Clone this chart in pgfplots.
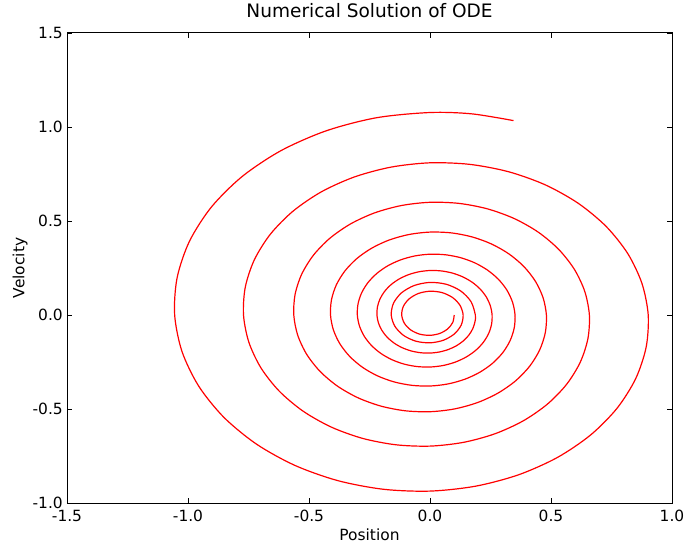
\documentclass[border=0pt]{standalone}
\usepackage{fontspec}
\setmainfont{DejaVu Sans}
\usepackage{pgfplots}
\pgfplotsset{compat=1.18}
\newcommand\lblfont{\fontsize{15.5}{18}\selectfont}
\begin{document}
\begin{tikzpicture}
\useasboundingbox (-67bp,-45bp) rectangle (622bp,503bp);
\begin{axis}[
    scale only axis,
    width=605bp, height=470bp,
    xmin=-1.5, xmax=1.0,
    ymin=-1.0, ymax=1.5,
    xtick={-1.5,-1,-0.5,0,0.5,1},
    xticklabels={-1.5,-1.0,-0.5,0.0,0.5,1.0},
    ytick={-1,-0.5,0,0.5,1,1.5},
    yticklabels={-1.0,-0.5,0.0,0.5,1.0,1.5},
    tick align=inside,
    major tick length=5bp,
    tick style={black, line width=0.6bp},
    axis line style={line width=1bp},
    ticklabel style={font=\lblfont, inner sep=0pt},
    xticklabel style={anchor=base, yshift=-18bp},
    yticklabel style={anchor=east, xshift=-4bp},
    title={Numerical Solution of ODE},
    title style={font=\fontsize{18.6}{22}\selectfont, at={(axis description cs:0.5,1.034)}, anchor=center},
    xlabel={Position},
    ylabel={Velocity},
    label style={font=\lblfont},
    xlabel style={at={(axis description cs:0.5,-0.068)}, anchor=center},
    ylabel style={at={(axis description cs:-0.0777,0.5)}, anchor=center},
]
% phase portrait (clockwise, from the centre outwards)
\addplot[red, line width=1.2bp, smooth] coordinates {
(0.1000,0.0000) (0.0942,-0.0390) (0.0735,-0.0735) (0.0406,-0.0980)
(0.0000,-0.1082) (-0.0422,-0.1019) (-0.0796,-0.0796) (-0.1060,-0.0439)
(-0.1170,0.0000) (-0.1102,0.0457) (-0.0861,0.0861) (-0.0475,0.1147)
(0.0000,0.1266) (0.0494,0.1193) (0.0931,0.0931) (0.1240,0.0514)
(0.1369,0.0000) (0.1290,-0.0534) (0.1007,-0.1007) (0.0556,-0.1342)
(0.0000,-0.1481) (-0.0578,-0.1395) (-0.1089,-0.1089) (-0.1451,-0.0601)
(-0.1602,0.0000) (-0.1509,0.0625) (-0.1178,0.1178) (-0.0650,0.1570)
(0.0000,0.1733) (0.0676,0.1633) (0.1274,0.1274) (0.1698,0.0703)
(0.1874,0.0000) (0.1857,-0.0369) (0.1766,-0.0731) (0.1605,-0.1071)
(0.1379,-0.1376) (0.1094,-0.1634) (0.0761,-0.1834) (0.0392,-0.1966)
(0.0000,-0.2024) (-0.0399,-0.2005) (-0.0791,-0.1907) (-0.1160,-0.1733)
(-0.1491,-0.1488) (-0.1771,-0.1181) (-0.1987,-0.0821) (-0.2130,-0.0423)
(-0.2193,0.0000) (-0.2172,0.0431) (-0.2066,0.0854) (-0.1878,0.1252)
(-0.1613,0.1610) (-0.1280,0.1911) (-0.0890,0.2144) (-0.0458,0.2299)
(0.0000,0.2367) (0.0467,0.2344) (0.0926,0.2230) (0.1357,0.2027)
(0.1745,0.1740) (0.2072,0.1381) (0.2325,0.0961) (0.2492,0.0494)
(0.2566,0.0000) (0.2542,-0.0504) (0.2418,-0.0999) (0.2198,-0.1464)
(0.1887,-0.1882) (0.1498,-0.2234) (0.1042,-0.2507) (0.0536,-0.2688)
(0.0000,-0.2767) (-0.0547,-0.2741) (-0.1083,-0.2607) (-0.1588,-0.2369)
(-0.2042,-0.2034) (-0.2424,-0.1614) (-0.2720,-0.1123) (-0.2916,-0.0578)
(-0.3003,0.0000) (-0.2974,0.0589) (-0.2829,0.1167) (-0.2571,0.1711)
(-0.2208,0.2199) (-0.1752,0.2612) (-0.1219,0.2930) (-0.0628,0.3141)
(0.0000,0.3234) (0.0640,0.3203) (0.1268,0.3047) (0.1859,0.2769)
(0.2389,0.2377) (0.2837,0.1886) (0.3183,0.1312) (0.3412,0.0675)
(0.3514,0.0000) (0.3480,-0.0689) (0.3310,-0.1364) (0.3009,-0.1999)
(0.2584,-0.2570) (0.2050,-0.3051) (0.1426,-0.3423) (0.0734,-0.3669)
(0.0000,-0.3778) (-0.0749,-0.3741) (-0.1483,-0.3559) (-0.2175,-0.3234)
(-0.2795,-0.2777) (-0.3319,-0.2203) (-0.3724,-0.1532) (-0.3993,-0.0789)
(-0.4111,0.0000) (-0.4072,0.0804) (-0.3874,0.1593) (-0.3521,0.2335)
(-0.3024,0.3001) (-0.2399,0.3562) (-0.1669,0.3997) (-0.0859,0.4284)
(0.0000,0.4410) (0.0876,0.4368) (0.1736,0.4154) (0.2545,0.3775)
(0.3271,0.3241) (0.3884,0.2571) (0.4358,0.1788) (0.4672,0.0921)
(0.4810,0.0000) (0.4765,-0.0938) (0.4532,-0.1859) (0.4119,-0.2724)
(0.3538,-0.3501) (0.2807,-0.4156) (0.1953,-0.4663) (0.1005,-0.4998)
(0.0000,-0.5145) (-0.1025,-0.5095) (-0.2031,-0.4845) (-0.2977,-0.4403)
(-0.3827,-0.3780) (-0.4544,-0.2999) (-0.5099,-0.2085) (-0.5467,-0.1073)
(-0.5629,0.0000) (-0.5575,0.1094) (-0.5303,0.2167) (-0.4820,0.3176)
(-0.4140,0.4080) (-0.3284,0.4844) (-0.2285,0.5434) (-0.1176,0.5824)
(0.0000,0.5995) (0.1200,0.5936) (0.2376,0.5645) (0.3484,0.5128)
(0.4478,0.4403) (0.5317,0.3492) (0.5966,0.2428) (0.6396,0.1250)
(0.6586,0.0000) (0.6523,-0.1274) (0.6205,-0.2522) (0.5640,-0.3696)
(0.4844,-0.4749) (0.3843,-0.5637) (0.2673,-0.6323) (0.1376,-0.6776)
(0.0000,-0.6974) (-0.1404,-0.6904) (-0.2780,-0.6565) (-0.4076,-0.5964)
(-0.5239,-0.5120) (-0.6222,-0.4060) (-0.6981,-0.2823) (-0.7484,-0.1453)
(-0.7706,0.0000) (-0.7633,0.1480) (-0.7261,0.2930) (-0.6599,0.4294)
(-0.5667,0.5516) (-0.4497,0.6546) (-0.3128,0.7341) (-0.1610,0.7866)
(0.0000,0.8095) (0.1642,0.8013) (0.3253,0.7618) (0.4770,0.6919)
(0.6130,0.5938) (0.7280,0.4709) (0.8169,0.3273) (0.8757,0.1684)
(0.9017,0.0000) (0.8931,-0.1715) (0.8496,-0.3395) (0.7721,-0.4974)
(0.6631,-0.6388) (0.5262,-0.7580) (0.3660,-0.8499) (0.1884,-0.9105)
(0.0000,-0.9367) (-0.1922,-0.9270) (-0.3807,-0.8811) (-0.5581,-0.8001)
(-0.7173,-0.6866) (-0.8518,-0.5443) (-0.9558,-0.3783) (-1.0247,-0.1946)
(-1.0551,0.0000) (-1.0450,0.1980) (-0.9941,0.3919) (-0.9035,0.5740)
(-0.7759,0.7370) (-0.6157,0.8743) (-0.4283,0.9800) (-0.2205,1.0494)
(0.0000,1.0770) (0.1718,1.0700) (0.3450,1.0340)
};
\end{axis}
\end{tikzpicture}
\end{document}
